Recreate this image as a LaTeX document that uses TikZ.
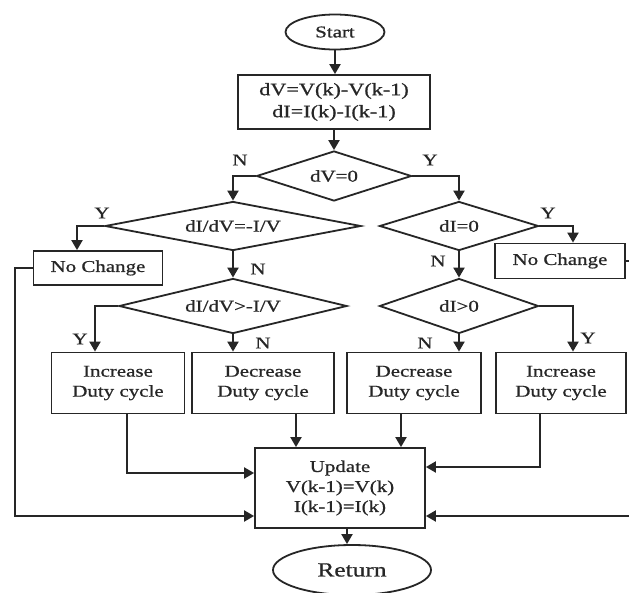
\documentclass[tikz,border=0pt]{standalone}
\usepackage{fontspec}
\setmainfont{Liberation Serif}[FakeStretch=1.27,FakeBold=0.8]
\usetikzlibrary{shapes.geometric,arrows.meta,calc}
\begin{document}
\begin{tikzpicture}[x=1pt,y=-1pt,
  color=black!85,
  every node/.style={font=\fontsize{16.5}{20}\selectfont},
  box/.style={draw, rectangle, inner sep=0pt, align=center, line width=1.8pt},
  dia/.style={draw, diamond, aspect=3, inner sep=0pt, line width=1.8pt},
  term/.style={draw, ellipse, inner sep=0pt, line width=1.8pt},
  arr/.style={-{Triangle[length=10pt,width=11pt]}, line width=2pt},
  lbl/.style={inner sep=0pt}
]
\fill[white] (0,0) rectangle (629,592);
\clip (0,0) rectangle (629,592);

% nodes
\node[term, minimum width=99pt, minimum height=35pt] (start) at (335,32) {Start};
\node[box, minimum width=192pt, minimum height=54pt, font=\fontsize{17.5}{22}\selectfont] (init) at (334,102) {dV=V(k)-V(k-1)\\dI=I(k)-I(k-1)};
\node[dia, minimum width=155pt, minimum height=50pt] (d1) at (334,176) {dV=0};
\node[dia, minimum width=256pt, minimum height=49pt] (d2) at (233,226) {dI/dV=-I/V};
\node[dia, minimum width=159pt, minimum height=49pt] (d3) at (459,226) {dI=0};
\node[box, minimum width=129pt, minimum height=34pt] (nc1) at (98,268) {No Change};
\node[box, minimum width=130pt, minimum height=35pt] (nc2) at (560,261) {No Change};
\node[dia, minimum width=228pt, minimum height=55pt] (d4) at (233,306) {dI/dV>-I/V};
\node[dia, minimum width=159pt, minimum height=55pt] (d5) at (459,306) {dI>0};
\node[box, minimum width=133pt, minimum height=61pt] (b1) at (118,383) {Increase\\Duty cycle};
\node[box, minimum width=142pt, minimum height=61pt] (b2) at (263,383) {Decrease\\Duty cycle};
\node[box, minimum width=134pt, minimum height=61pt] (b3) at (414,383) {Decrease\\Duty cycle};
\node[box, minimum width=130pt, minimum height=61pt] (b4) at (561,383) {Increase\\Duty cycle};
\node[box, minimum width=170pt, minimum height=80pt] (upd) at (340,488) {Update\\V(k-1)=V(k)\\I(k-1)=I(k)};
\node[term, minimum width=158pt, minimum height=50pt, font=\fontsize{20}{24}\selectfont] (ret) at (352,570) {Return};

% labels
\node[lbl] (l1) at (240,160) {N};
\node[lbl] (l2) at (430,160) {Y};
\node[lbl] (l3) at (102,213) {Y};
\node[lbl] (l4) at (258,269) {N};
\node[lbl] (l5) at (548,213) {Y};
\node[lbl] (l6) at (438,261) {N};
\node[lbl] (l7) at (80,339) {Y};
\node[lbl] (l8) at (263,343) {N};
\node[lbl] (l9) at (425,343) {N};
\node[lbl] (l10) at (588,338) {Y};

% connectors
\draw[arr] (start.south) -- (start.south |- init.north);
\draw[arr] (init.south) -- (init.south |- d1.north);
\draw[arr] (d1.west) -| (d2.north);
\draw[arr] (d1.east) -| (d3.north);
\draw[arr] (d2.west) -| ([xshift=-21pt]nc1.north);
\draw[arr] (d2.south) -- (d4.north);
\draw[arr] (d3.east) -| ([xshift=13pt]nc2.north);
\draw[arr] (d3.south) -- (d5.north);
\draw[arr] (d4.west) -| ([xshift=-23pt]b1.north);
\draw[arr] (d4.south) -- (d4.south |- b2.north);
\draw[arr] (d5.south) -- (d5.south |- b3.north);
\draw[arr] (d5.east) -| ([xshift=12pt]b4.north);
\draw[arr] ([xshift=9pt]b1.south) |- ([yshift=15pt]upd.west);
\draw[arr] ([xshift=33pt]b2.south) -- ([xshift=33pt]b2.south |- upd.north);
\draw[arr] ([xshift=-13pt]b3.south) -- ([xshift=-13pt]b3.south |- upd.north);
\draw[arr] ([xshift=-21pt]b4.south) |- ([yshift=21pt]upd.east);
\coordinate (lc) at (15,516);
\coordinate (rc) at (640,516);
\draw[arr] (nc1.west) -| (lc) -- (lc -| upd.west);
\draw[arr] (nc2.east) -| (rc) -- (rc -| upd.east);
\draw[arr] ([xshift=7pt]upd.south) -- ([xshift=7pt]upd.south |- ret.north);
\end{tikzpicture}
\end{document}
